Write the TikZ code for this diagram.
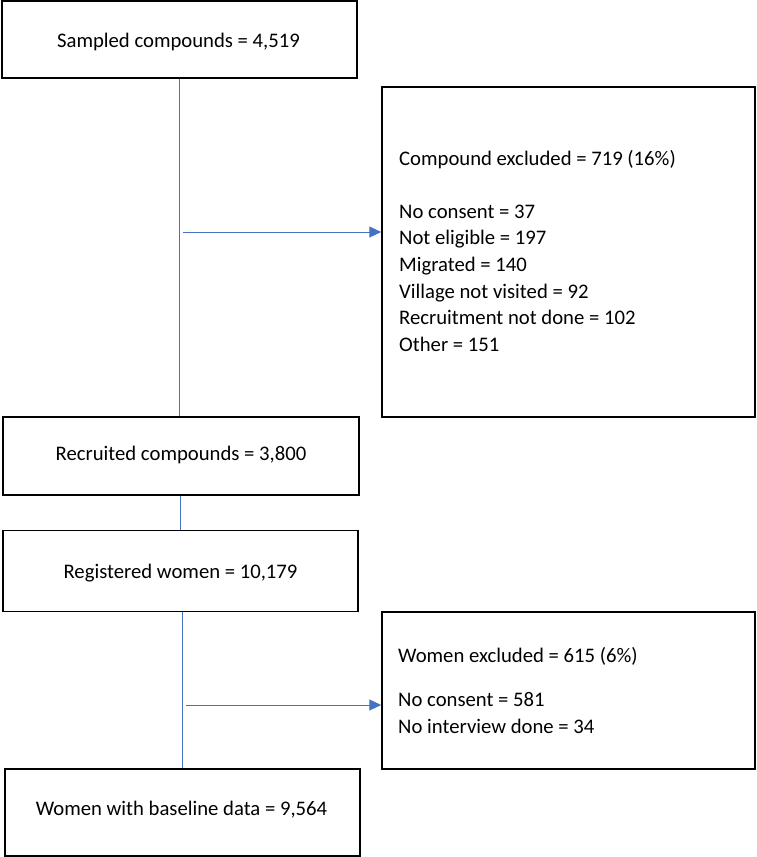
\documentclass[tikz,border=0pt]{standalone}
\usepackage{fontspec}
\setmainfont{Carlito}
\usetikzlibrary{arrows.meta}
\definecolor{connblue}{HTML}{4472C4}
\begin{document}
\begin{tikzpicture}[x=1pt,y=-1pt,
  box/.style 2 args={draw=black,line width=1.5pt,inner sep=0pt,minimum width=#1pt,minimum height=#2pt},
  txt/.style={inner sep=0pt,font=\fontsize{20.7}{24}\selectfont},
  ctxt/.style={txt,anchor=base},
  ltxt/.style={txt,anchor=base west},
  connline/.style={draw=connblue,line width=1pt},
  arr/.style={connline,-{Triangle[length=12pt,width=11pt]}}]
\useasboundingbox (0,0) rectangle (757,857);
% boxes
\node[box={355}{77}] (sampled) at (179.5,39.5) {};
\node[box={373}{330}] (cexcl) at (568.5,252) {};
\node[box={356}{78}] (recruited) at (181,456) {};
\node[box={355}{81}] (registered) at (180.5,571) {};
\node[box={373}{157}] (wexcl) at (568.5,690.5) {};
\node[box={355}{87}] (baseline) at (182.5,812.5) {};
% texts
\node[ctxt] (sampledt) at (178.5,47.5) {Sampled compounds = 4,519};
\node[ctxt] (recruitedt) at (181,460) {Recruited compounds = 3,800};
\node[ctxt] (registeredt) at (180.5,578) {Registered women = 10,179};
\node[ctxt] (baselinet) at (181.5,815) {Women with baseline data = 9,564};
\node[ltxt] (ce0) at (399,165) {Compound excluded = 719 (16\%)};
\node[ltxt] (ce1) at (399,218) {No consent = 37};
\node[ltxt] (ce2) at (399,244.7) {Not eligible = 197};
\node[ltxt] (ce3) at (399,271.3) {Migrated = 140};
\node[ltxt] (ce4) at (399,298) {Village not visited = 92};
\node[ltxt] (ce5) at (399,324.7) {Recruitment not done = 102};
\node[ltxt] (ce6) at (399,351.3) {Other = 151};
\node[ltxt] (we0) at (398,662) {Women excluded = 615 (6\%)};
\node[ltxt] (we1) at (398,706) {No consent = 581};
\node[ltxt] (we2) at (398,733) {No interview done = 34};
% connectors
\coordinate (v1) at (179,0);
\coordinate (v2) at (180,0);
\coordinate (v3) at (182,0);
\draw[connline] (sampled.south -| v1) -- (recruited.north -| v1);
\draw[connline] (recruited.south -| v2) -- (registered.north -| v2);
\draw[connline] (registered.south -| v3) -- (baseline.north -| v3);
\coordinate (a1) at (183,232);
\coordinate (a2) at (186,705);
\draw[arr] (a1) -- (a1 -| cexcl.west);
\draw[arr] (a2) -- (a2 -| wexcl.west);
\end{tikzpicture}
\end{document}
